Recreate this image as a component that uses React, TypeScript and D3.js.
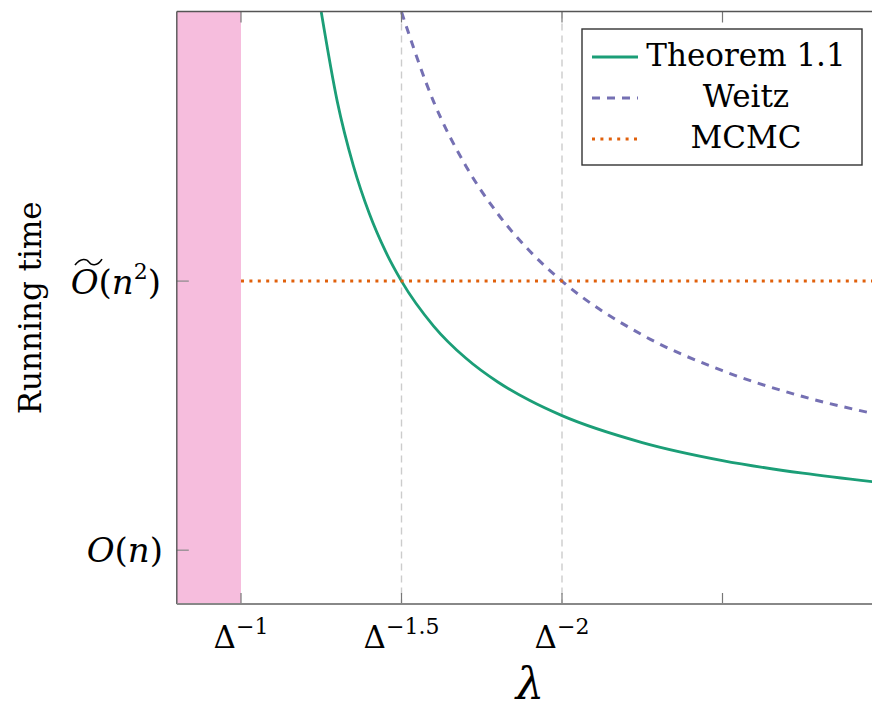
import React from "react";
import * as d3 from "d3";

// values (x in exponent units of Delta, y in exponent units of n)
const theoremX = [1.25, 1.3, 1.35, 1.4, 1.45, 1.5, 1.6, 1.7, 1.8, 1.9, 2.0, 2.25, 2.5, 2.75, 3.0];
const theoremY = [3.0, 2.667, 2.429, 2.25, 2.111, 2.0, 1.833, 1.714, 1.625, 1.556, 1.5, 1.4, 1.333, 1.286, 1.25];
const weitzX = [1.5, 1.6, 1.7, 1.8, 1.9, 2.0, 2.25, 2.5, 2.75, 3.0];
const weitzY = [3.0, 2.667, 2.429, 2.25, 2.111, 2.0, 1.8, 1.667, 1.571, 1.5];
const mcmcX = [1.0, 3.0];
const mcmcY = [2.0, 2.0];

const xTicks = [1, 1.5, 2, 2.5];
const xTickLabels = ["−1", "−1.5", "−2", ""];
const gridX = [1.5, 2];
const yTicks = [1, 2];
const bandRange = [0.8, 1.0];

const legendItems = ["Theorem 1.1", "Weitz", "MCMC"];
const colors = ["#1b9e77", "#7570b3", "#e0600c"];
const dashes = [null, "8 7", "3 5.4"];

const serif = "'DejaVu Serif', 'Liberation Serif', serif";

export default function App() {
  const left = 176.8, right = 883, top = 11.5, bottom = 604;
  const x = d3.scaleLinear().domain([0.8, 3]).range([left, right]);
  const y = d3.scaleLinear().domain([0.8, 3]).range([bottom, top + 0.5]);

  const line = d3
    .line<[number, number]>()
    .x((d) => x(d[0]))
    .y((d) => y(d[1]))
    .curve(d3.curveMonotoneX);

  const series = [
    d3.zip(theoremX, theoremY) as [number, number][],
    d3.zip(weitzX, weitzY) as [number, number][],
    d3.zip(mcmcX, mcmcY) as [number, number][],
  ];
  const widths = [2.8, 3, 3];

  const legX = 582, legY = 29, legW = 280, legH = 136;
  const rowY = (i: number) => legY + 28 + i * 41;

  // wide tilde above the O of the upper y label
  const tx = 75, ty = y(2) - 20;
  const tilde = `M${tx},${ty + 4} C${tx + 6},${ty - 4} ${tx + 12},${ty - 2} ${tx + 14},${ty + 1} S${tx + 22},${ty + 6} ${tx + 27},${ty - 2}`;

  return (
    <svg width={872} height={712} style={{ position: "absolute", left: 0, top: 0, background: "#fff" }}>
      <defs>
        <clipPath id="plot">
          <rect x={left} y={top} width={right - left} height={bottom - top} />
        </clipPath>
      </defs>

      {/* shaded band */}
      <rect
        x={x(bandRange[0])}
        y={top}
        width={x(bandRange[1]) - x(bandRange[0])}
        height={bottom - top}
        fill="#f6bddd"
      />

      {/* dashed grid */}
      {gridX.map((g) => (
        <line key={g} x1={x(g)} x2={x(g)} y1={top} y2={bottom} stroke="#cccccc" strokeWidth={1.4} strokeDasharray="7 5" />
      ))}

      {/* curves */}
      <g clipPath="url(#plot)">
        {series.map((s, i) => (
          <path
            key={i}
            d={line(s) || ""}
            fill="none"
            stroke={colors[i]}
            strokeWidth={widths[i]}
            strokeDasharray={dashes[i] || undefined}
          />
        ))}
      </g>

      {/* ticks */}
      {xTicks.map((t) => (
        <g key={t}>
          <line x1={x(t)} x2={x(t)} y1={bottom} y2={bottom - 11} stroke="#777" strokeWidth={1.2} />
          <line x1={x(t)} x2={x(t)} y1={top} y2={top + 11} stroke="#777" strokeWidth={1.2} />
        </g>
      ))}
      {yTicks.map((t) => (
        <line key={t} x1={left} x2={left + 12} y1={y(t)} y2={y(t)} stroke="#888" strokeWidth={1.2} />
      ))}

      {/* frame */}
      <line x1={left} x2={872} y1={top} y2={top} stroke="#555" strokeWidth={1.4} />
      <line x1={left} x2={left} y1={top} y2={bottom} stroke="#555" strokeWidth={1.4} />
      <line x1={left} x2={872} y1={bottom} y2={bottom} stroke="#888" strokeWidth={2.2} />

      {/* x tick labels */}
      {xTicks.map((t, i) =>
        xTickLabels[i] ? (
          <text key={t} x={x(t)} y={648} fontFamily={serif} fontSize={31} textAnchor="middle">
            <tspan>Δ</tspan>
            <tspan fontSize={22} dy={-14}>{xTickLabels[i]}</tspan>
          </text>
        ) : null
      )}

      {/* y tick labels */}
      <text x={163} y={y(1) + 12} fontFamily={serif} fontSize={34} textAnchor="end">
        <tspan fontStyle="italic">O</tspan>
        <tspan>(</tspan>
        <tspan fontStyle="italic">n</tspan>
        <tspan>)</tspan>
      </text>
      <text x={161} y={y(2) + 13} fontFamily={serif} fontSize={34} textAnchor="end">
        <tspan fontStyle="italic">O</tspan>
        <tspan>(</tspan>
        <tspan fontStyle="italic">n</tspan>
        <tspan fontSize={22} dy={-15}>2</tspan>
        <tspan dy={15}>)</tspan>
      </text>
      <path d={tilde} fill="none" stroke="#000" strokeWidth={1.6} />

      {/* axis titles */}
      <text x={(left + right) / 2} y={699} fontFamily={serif} fontSize={45} fontStyle="italic" textAnchor="middle">
        λ
      </text>
      <text
        transform={`translate(${41}, ${(top + bottom) / 2}) rotate(-90)`}
        fontFamily={serif}
        fontSize={31}
        textAnchor="middle"
      >
        Running time
      </text>

      {/* legend */}
      <rect x={legX} y={legY} width={legW} height={legH} fill="#fff" stroke="#333" strokeWidth={1.4} />
      {legendItems.map((name, i) => (
        <g key={name}>
          <line
            x1={legX + 10}
            x2={legX + 56}
            y1={rowY(i)}
            y2={rowY(i)}
            stroke={colors[i]}
            strokeWidth={widths[i]}
            strokeDasharray={dashes[i] || undefined}
          />
          <text x={legX + 164} y={rowY(i) + 9} fontFamily={serif} fontSize={31} textAnchor="middle">
            {name}
          </text>
        </g>
      ))}
    </svg>
  );
}
